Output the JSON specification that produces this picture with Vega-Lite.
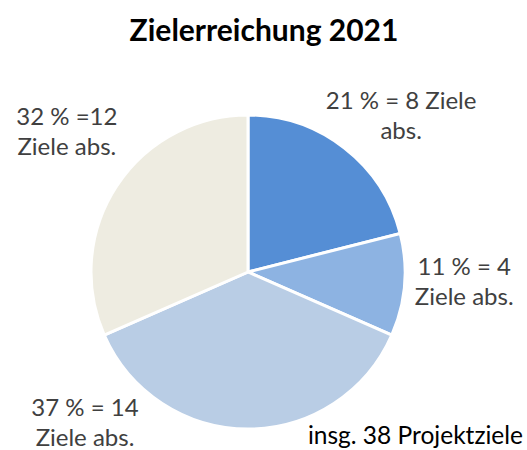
{
  "$schema": "https://vega.github.io/schema/vega-lite/v6.json",
  "autosize": {"type": "none"},
  "width": 496,
  "height": 356,
  "padding": {"left": 0, "top": 94, "right": 31, "bottom": 0},
  "background": "white",
  "view": {"stroke": null},
  "data": {
    "values": [
      {"i": 1, "k": "a", "n": 8, "label": "21 % = 8 Ziele\nabs."},
      {"i": 2, "k": "b", "n": 4, "label": "11 % = 4\nZiele abs."},
      {"i": 3, "k": "c", "n": 14, "label": "37 % = 14\nZiele abs."},
      {"i": 4, "k": "d", "n": 12, "label": "32 % =12\nZiele abs."}
    ]
  },
  "encoding": {
    "theta": {"field": "n", "type": "quantitative", "stack": true},
    "order": {"field": "i", "type": "quantitative"}
  },
  "layer": [
    {
      "mark": {"type": "arc", "outerRadius": 157, "stroke": "white", "strokeWidth": 3},
      "encoding": {
        "color": {"field": "k", "type": "nominal", "legend": null,
          "scale": {"domain": ["a", "b", "c", "d"], "range": ["#558ED5", "#8DB3E2", "#B9CDE5", "#EEECE1"]}}
      }
    },
    {
      "mark": {"type": "text", "radius": 220, "font": "Lato", "fontSize": 24, "color": "#404040", "lineBreak": "\n", "lineHeight": 30, "baseline": "middle", "align": "center", "dx": 18, "dy": 4},
      "encoding": {"text": {"condition": {"test": "datum.i == 1", "field": "label"}, "value": ""}}
    },
    {
      "mark": {"type": "text", "radius": 220, "font": "Lato", "fontSize": 24, "color": "#404040", "lineBreak": "\n", "lineHeight": 30, "baseline": "middle", "align": "center", "dx": -3, "dy": -22},
      "encoding": {"text": {"condition": {"test": "datum.i == 2", "field": "label"}, "value": ""}}
    },
    {
      "mark": {"type": "text", "radius": 220, "font": "Lato", "fontSize": 24, "color": "#404040", "lineBreak": "\n", "lineHeight": 30, "baseline": "middle", "align": "center", "dx": -163, "dy": -83},
      "encoding": {"text": {"condition": {"test": "datum.i == 3", "field": "label"}, "value": ""}}
    },
    {
      "mark": {"type": "text", "radius": 220, "font": "Lato", "fontSize": 24, "color": "#404040", "lineBreak": "\n", "lineHeight": 30, "baseline": "middle", "align": "center", "dx": 3, "dy": -34},
      "encoding": {"text": {"condition": {"test": "datum.i == 4", "field": "label"}, "value": ""}}
    },
    {
      "data": {"values": [{"note": "insg. 38 Projektziele"}]},
      "mark": {"type": "text", "x": {"expr": "width + 27"}, "y": {"expr": "height - 13"}, "align": "right", "baseline": "middle", "font": "Lato", "fontSize": 24.5, "color": "#000000"},
      "encoding": {"text": {"field": "note"}, "theta": null, "order": null}
    },
    {
      "data": {"values": [{"title": "Zielerreichung 2021"}]},
      "mark": {"type": "text", "x": {"expr": "width / 2 + 16"}, "y": -62, "align": "center", "baseline": "middle", "font": "Lato", "fontSize": 30, "fontWeight": "bold", "color": "#000000"},
      "encoding": {"text": {"field": "title"}, "theta": null, "order": null}
    }
  ]
}
